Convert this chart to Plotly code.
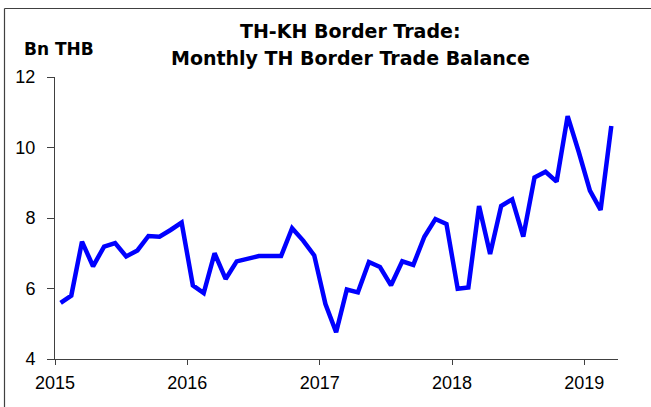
import plotly.graph_objects as go

months = [f"{y}-{m:02d}-01" for y in range(2015, 2019) for m in range(1, 13)] + [
    "2019-01-01", "2019-02-01", "2019-03-01"]

balance_2015 = [5.59, 5.80, 7.33, 6.63, 7.19, 7.29, 6.91, 7.08, 7.49, 7.47, 7.66, 7.87]
balance_2016 = [6.09, 5.87, 7.00, 6.27, 6.77, 6.83, 6.92, 6.92, 6.92, 7.71, 7.36, 6.94]
balance_2017 = [5.56, 4.76, 5.97, 5.89, 6.75, 6.61, 6.09, 6.77, 6.67, 7.47, 7.97, 7.83]
balance_2018 = [5.99, 6.03, 8.34, 6.98, 8.34, 8.53, 7.47, 9.15, 9.31, 9.03, 10.89, 9.88]
balance_2019 = [8.78, 8.23, 10.61]
balance = balance_2015 + balance_2016 + balance_2017 + balance_2018 + balance_2019

title_line1 = "TH-KH Border Trade:"
title_line2 = "Monthly TH Border Trade Balance"
unit_label = "Bn THB"

W, H = 651, 407
L, R, T, B = 55, 33, 77, 48
pw, ph = W - L - R, H - T - B

def px_x(p):
    return (p - L) / pw

def px_y(p):
    return (H - B - p) / ph

fig = go.Figure()
fig.add_trace(go.Scatter(
    x=months, y=balance, mode="lines",
    xperiod="M1", xperiodalignment="middle",
    line=dict(color="#0000FF", width=4.5),
    hoverinfo="skip", showlegend=False,
))

axis_color = "#404040"
fig.update_layout(
    width=W, height=H,
    margin=dict(l=L, r=R, t=T, b=B),
    paper_bgcolor="white", plot_bgcolor="white",
    font=dict(family="Liberation Sans, Arial", size=18, color="#000000"),
    xaxis=dict(
        type="date", range=["2015-01-01", "2019-04-04"],
        tick0="2015-01-01", dtick="M12", tickformat="%Y",
        showgrid=False, zeroline=False,
        showline=True, linecolor=axis_color, linewidth=1,
        ticks="outside", ticklen=5, tickcolor=axis_color, tickwidth=1,
        ticklabelstandoff=2,
    ),
    yaxis=dict(
        range=[4, 12], tick0=4, dtick=2,
        showgrid=False, zeroline=False,
        showline=True, linecolor=axis_color, linewidth=1,
        ticks="outside", ticklen=7, tickcolor=axis_color, tickwidth=1,
        ticklabelstandoff=8,
    ),
    annotations=[
        dict(text=f"<b>{title_line1}</b>", x=px_x(350), y=px_y(31), xref="paper", yref="paper",
             xanchor="center", yanchor="middle", showarrow=False,
             font=dict(family="DejaVu Sans", size=19, color="#000000")),
        dict(text=f"<b>{title_line2}</b>", x=px_x(350), y=px_y(57.5), xref="paper", yref="paper",
             xanchor="center", yanchor="middle", showarrow=False,
             font=dict(family="DejaVu Sans", size=19, color="#000000")),
        dict(text=f"<b>{unit_label}</b>", x=px_x(22), y=px_y(49), xref="paper", yref="paper",
             xanchor="left", yanchor="middle", showarrow=False,
             font=dict(family="DejaVu Sans", size=17, color="#000000")),
    ],
    shapes=[
        dict(type="line", xref="paper", yref="paper",
             x0=px_x(4.5), y0=px_y(8.5), x1=px_x(660), y1=px_y(8.5),
             line=dict(color=axis_color, width=1.2)),
        dict(type="line", xref="paper", yref="paper",
             x0=px_x(4.5), y0=px_y(8.5), x1=px_x(4.5), y1=px_y(420),
             line=dict(color=axis_color, width=1.2)),
    ],
)

fig.write_html(
    "out.html",
    config={"displayModeBar": False},
    post_script="document.body.style.margin='0';document.body.style.overflow='hidden';",
)
